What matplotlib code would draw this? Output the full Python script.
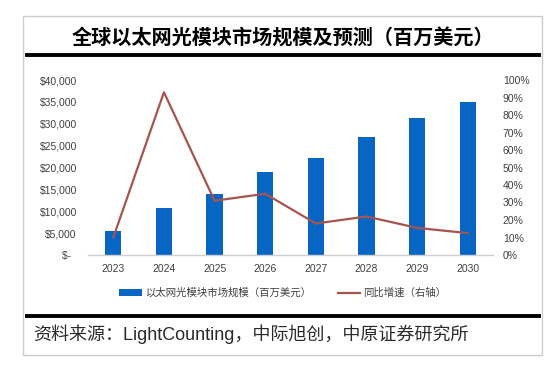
import matplotlib
matplotlib.use("Agg")
import matplotlib.pyplot as plt
from matplotlib.lines import Line2D
from matplotlib.patches import Rectangle
from matplotlib.ticker import FuncFormatter

years = ["2023", "2024", "2025", "2026", "2027", "2028", "2029", "2030"]
market = [5500, 10700, 14000, 19000, 22200, 27000, 31300, 35000]
growth = [0.10, 0.93, 0.31, 0.35, 0.18, 0.22, 0.155, 0.125]
left_ticks = [0, 5000, 10000, 15000, 20000, 25000, 30000, 35000, 40000]
right_ticks = [0, 0.1, 0.2, 0.3, 0.4, 0.5, 0.6, 0.7, 0.8, 0.9, 1.0]

title = "全球以太网光模块市场规模及预测（百万美元）"
bar_label = "以太网光模块市场规模（百万美元）"
line_label = "同比增速（右轴）"
source = "资料来源：LightCounting，中际旭创，中原证券研究所"

plt.rcParams['font.family'] = ['Liberation Sans', 'Noto Sans CJK SC', 'DejaVu Sans']

W, H = 558, 368
fig = plt.figure(figsize=(W / 100, H / 100), dpi=100)
fig.patch.set_facecolor('white')

def fx(px):
    return px / W

def fy(py):
    return 1 - py / H

# outer frame
fig.patches.append(Rectangle((fx(23), fy(355)), fx(542) - fx(23), fy(16) - fy(355),
                             transform=fig.transFigure, fill=False,
                             edgecolor='#cccccc', linewidth=1.0))
# thick rules
fig.lines.append(Line2D([fx(27), fx(539)], [fy(55), fy(55)], transform=fig.transFigure,
                        color='black', linewidth=2.8))
fig.lines.append(Line2D([fx(27), fx(539)], [fy(316), fy(316)], transform=fig.transFigure,
                        color='black', linewidth=2.8))

fig.text(fx(283), fy(38), title, ha='center', va='center', fontsize=14.5,
         fontweight='bold', family=['Noto Sans CJK SC'], color='black')
fig.text(fx(33), fy(334), source, ha='left', va='center', fontsize=13,
         family=['Liberation Sans', 'Noto Sans CJK SC'], color='#2a2a2a')

ax = fig.add_axes([fx(88), fy(255), fx(493) - fx(88), fy(80) - fy(255)])
x = list(range(len(years)))
bars = ax.bar(x, market, width=0.32, color='#0766C4', label=bar_label, zorder=2)
ax.set_xlim(-0.5, len(years) - 0.5)
ax.set_ylim(0, 40000)
ax.set_yticks(left_ticks)
ax.yaxis.set_major_formatter(FuncFormatter(lambda v, p: "$-  " if v == 0 else f"${int(v):,}"))
ax.set_xticks(x)
ax.set_xticklabels(years)
for s in ['top', 'right', 'left']:
    ax.spines[s].set_visible(False)
ax.spines['bottom'].set_color('#d0d0d0')
ax.spines['bottom'].set_linewidth(1.0)
ax.tick_params(axis='both', length=0, labelsize=7.5, colors='#404040')
ax.tick_params(axis='y', pad=8)
ax.tick_params(axis='x', pad=6.5)

ax2 = ax.twinx()
line, = ax2.plot(x, growth, color='#A9534F', linewidth=1.6, label=line_label, zorder=3)
ax2.set_ylim(0, 1.0)
ax2.set_yticks(right_ticks)
ax2.yaxis.set_major_formatter(FuncFormatter(lambda v, p: f"{int(round(v * 100))}%"))
for s in ['top', 'right', 'left', 'bottom']:
    ax2.spines[s].set_visible(False)
ax2.tick_params(axis='y', length=0, labelsize=7.5, colors='#404040', pad=7)

leg = fig.legend([bars, line], [bar_label, line_label], loc='center',
                 bbox_to_anchor=(fx(283), fy(293)), ncol=2, frameon=False,
                 fontsize=7.5, handlelength=2.2, columnspacing=2.5, handletextpad=0.3,
                 labelcolor='#404040')

fig.savefig("out.png", dpi=100, facecolor='white')
